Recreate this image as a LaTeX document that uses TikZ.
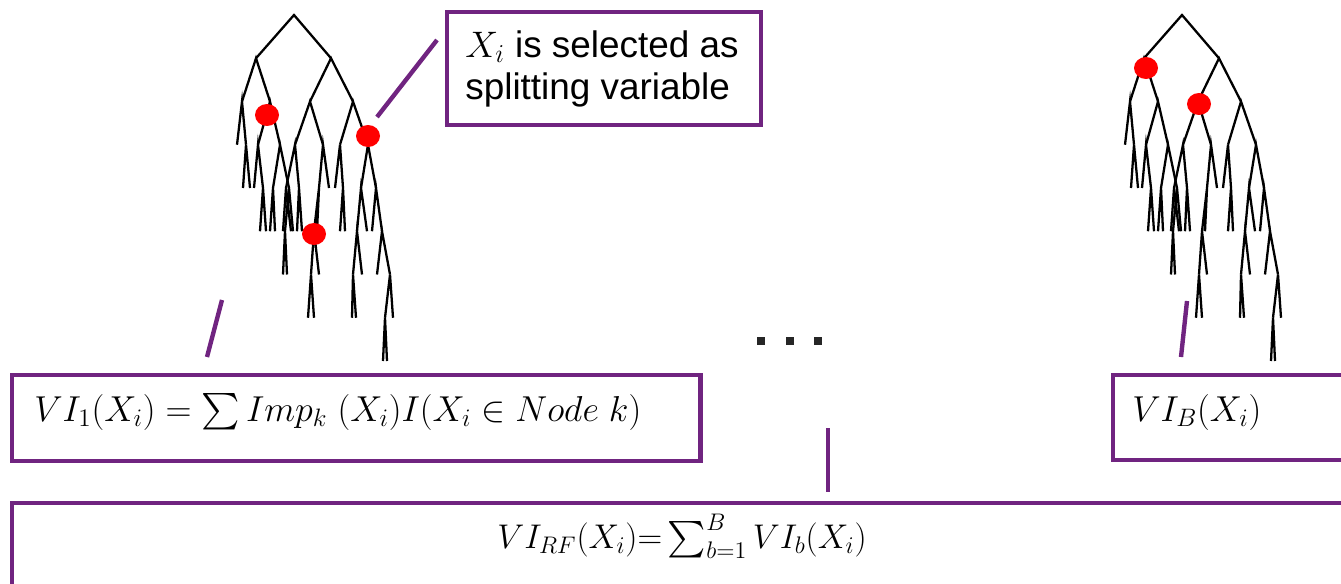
\documentclass[tikz,border=0pt]{standalone}
\usepackage{fix-cm}
\usepackage{exscale}
\usepackage{fontspec}
\setmainfont{Liberation Sans}
\usetikzlibrary{shapes.geometric}
\definecolor{vpurple}{RGB}{112,36,128}

\begin{document}
\begin{tikzpicture}[
    x=0.02cm, y=-0.02cm,
    branch/.style={line width=1.3pt},
    split/.style={ellipse, fill=red, minimum width=0.48cm, minimum height=0.44cm, inner sep=0pt},
    box/.style={draw=vpurple, line width=2.5pt, inner sep=0pt},
    link/.style={vpurple, line width=2.5pt},
    formula/.style={inner sep=0pt, font=\fontsize{20.5}{24}\selectfont},
    sq/.style={fill=black!85, minimum size=0.16cm, inner sep=0pt}
]
\useasboundingbox (0,0) rectangle (1341,584);
\clip (0,0) rectangle (1341,584);

% Trees (first and B-th)
\foreach \dx in {0,888} {
  \begin{scope}[shift={(\dx,0)}]
    \foreach \lv/\px/\lx/\rx in {0/294/256/331, 1/256/242/270, 1/331/310/353,
        2/242/237/246, 2/270/258/280, 2/310/295/323, 2/353/340/368,
        3/246/243/250, 3/258/254/263, 3/280/273/289, 3/295/286/299,
        3/323/319/329, 3/340/335/343, 3/368/361/376,
        4/263/260/266, 4/273/270/275, 4/289/285/293, 4/286/283/291,
        4/299/297/302, 4/319/314/317, 4/343/340/345, 4/361/357/367,
        4/376/372/382, 5/285/283/287, 5/314/311/319, 5/357/353/362,
        5/382/377/390, 6/311/308/314, 6/353/352/356, 6/390/385/393,
        7/385/383/387}
      \draw[branch] (\lx,{15+43.25*(\lv+1)}) -- (\px,{15+43.25*\lv}) -- (\rx,{15+43.25*(\lv+1)});
  \end{scope}
}

% Splits on X_i
\node[split] (s1) at (267,115) {};
\node[split] (s2) at (368,136) {};
\node[split] (s3) at (314,234) {};
\node[split] (s4) at (1146,68) {};
\node[split] (s5) at (1199,104) {};

% Callout
\node[box, minimum width=6.28cm, minimum height=2.26cm] (call) at (604,68.5) {};
\node[inner sep=0pt, anchor=west, align=left, font=\fontsize{21}{24}\selectfont] (calltxt) at (465,69)
      {$X_i$ is selected as\\splitting variable};
\coordinate (cA) at (437,40);
\coordinate (cB) at (377,117);
\draw[link] (cA) -- (cB);

% Ellipsis
\foreach \i in {0,1,2}
  \node[sq] (ell\i) at ({761+28.5*\i},341) {};

% Importance per tree
\node[box, minimum width=13.77cm, minimum height=1.72cm] (vi1box) at (356.25,418) {};
\node[formula, anchor=base west] (vi1) at (34,421)
      {$VI_1(X_i) = \sum Imp_k\;(X_i)I(X_i \in Node\ k)$};
\node[box, anchor=north west, minimum width=6cm, minimum height=1.7cm] (viBbox) at (1111,373) {};
\node[formula, anchor=base west] (viB) at (1132,421) {$VI_B(X_i)$};

\coordinate (t1a) at (222,300);
\coordinate (t1b) at (207,357);
\draw[link] (t1a) -- (t1b);
\coordinate (t2a) at (1187,301);
\coordinate (t2b) at (1181,357);
\draw[link] (t2a) -- (t2b);

% Forest importance
\node[box, anchor=north west, minimum width=27cm, minimum height=3cm] (rfbox) at (10,500.5) {};
\node[formula, anchor=base, font=\fontsize{19.5}{24}\selectfont] (rf) at (682,548)
      {$VI_{RF}(X_i){=}\sum_{b=1}^{B}VI_b(X_i)$};
\coordinate (m1) at (828,428);
\coordinate (m2) at (828,492);
\draw[link] (m1) -- (m2);

\end{tikzpicture}
\end{document}
